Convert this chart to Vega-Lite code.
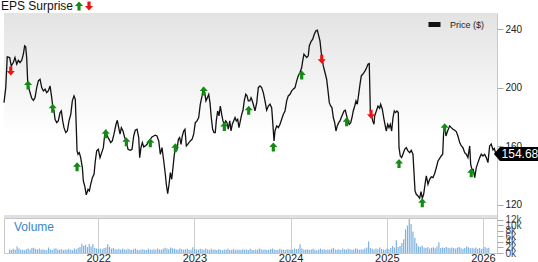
{
  "$schema": "https://vega.github.io/schema/vega-lite/v6.json",
  "padding": {"left": 0, "top": 0, "right": 0, "bottom": 0},
  "background": "white",
  "spacing": 0,
  "bounds": "flush",
  "config": {
    "font": "Liberation Sans",
    "view": {"stroke": "#c8c8c8"},
    "axis": {"gridColor": "#cdcdcd", "gridWidth": 1, "labelFont": "Liberation Sans", "labelColor": "#222222", "tickColor": "#aaaaaa", "domain": false, "title": null}
  },
  "resolve": {"scale": {"stroke": "independent", "fill": "independent", "shape": "independent"}},
  "vconcat": [
    {
      "width": 493,
      "height": 205,
      "layer": [
        {
          "data": {"values": [{}]},
          "mark": {"type": "rect", "color": {"gradient": "linear", "x1": 0, "y1": 0, "x2": 0, "y2": 1, "stops": [{"offset": 0, "color": "#e3e3e3"}, {"offset": 0.6, "color": "#ffffff"}]}},
          "encoding": {
            "x": {"datum": 2021.073, "type": "quantitative", "scale": {"domain": [2021.073, 2026.094], "nice": false, "zero": false}},
            "x2": {"datum": 2026.094},
            "y": {"datum": 251.1, "type": "quantitative", "scale": {"domain": [110.9, 251.1], "nice": false, "zero": false}},
            "y2": {"datum": 111.9}
          }
        },
        {
          "data": {"values": [{}]},
          "mark": {"type": "rule", "color": "#e0e0e0", "strokeWidth": 3},
          "encoding": {"y": {"datum": 111.9, "type": "quantitative"}}
        },
        {
          "data": {"values": [
            {"t":2021.073,"p":189.8},{"t":2021.091,"p":200.1},{"t":2021.106,"p":221.1},{"t":2021.131,"p":220.6},{"t":2021.147,"p":214.9},{"t":2021.168,"p":217.2},{"t":2021.185,"p":220.6},{"t":2021.203,"p":216.1},{"t":2021.219,"p":218.8},{"t":2021.236,"p":217.2},
            {"t":2021.254,"p":218.8},{"t":2021.270,"p":222.9},{"t":2021.283,"p":228.6},{"t":2021.294,"p":227.9},{"t":2021.304,"p":220.6},{"t":2021.314,"p":204.7},{"t":2021.321,"p":201.2},{"t":2021.338,"p":196.7},{"t":2021.355,"p":192.8},{"t":2021.372,"p":191.4},
            {"t":2021.389,"p":193.2},{"t":2021.406,"p":200.1},{"t":2021.423,"p":204.7},{"t":2021.440,"p":205.8},{"t":2021.457,"p":200.1},{"t":2021.474,"p":197.8},{"t":2021.491,"p":199.0},{"t":2021.508,"p":196.7},{"t":2021.524,"p":197.8},{"t":2021.542,"p":201.2},
            {"t":2021.559,"p":193.2},{"t":2021.569,"p":187.5},{"t":2021.582,"p":184.1},{"t":2021.593,"p":178.4},{"t":2021.610,"p":176.1},{"t":2021.626,"p":177.3},{"t":2021.644,"p":183.0},{"t":2021.657,"p":184.1},{"t":2021.671,"p":177.3},{"t":2021.684,"p":172.7},
            {"t":2021.702,"p":169.3},{"t":2021.718,"p":170.4},{"t":2021.735,"p":177.3},{"t":2021.753,"p":181.8},{"t":2021.769,"p":191.0},{"t":2021.786,"p":194.4},{"t":2021.799,"p":192.1},{"t":2021.807,"p":177.3},{"t":2021.817,"p":156.8},{"t":2021.827,"p":154.5},
            {"t":2021.840,"p":155.6},{"t":2021.854,"p":152.2},{"t":2021.871,"p":145.4},{"t":2021.881,"p":136.2},{"t":2021.895,"p":132.8},{"t":2021.911,"p":126.7},{"t":2021.929,"p":130.5},{"t":2021.942,"p":129.4},{"t":2021.956,"p":133.9},{"t":2021.973,"p":138.5},
            {"t":2021.990,"p":140.8},{"t":2022.003,"p":149.9},{"t":2022.017,"p":156.8},{"t":2022.034,"p":157.9},{"t":2022.051,"p":152.2},{"t":2022.068,"p":155.6},{"t":2022.085,"p":159.0},{"t":2022.099,"p":168.2},{"t":2022.112,"p":170.4},{"t":2022.125,"p":167.0},
            {"t":2022.143,"p":164.7},{"t":2022.160,"p":162.5},{"t":2022.176,"p":163.6},{"t":2022.193,"p":168.2},{"t":2022.214,"p":175.0},{"t":2022.227,"p":177.7},{"t":2022.241,"p":172.7},{"t":2022.255,"p":168.2},{"t":2022.268,"p":172.7},{"t":2022.285,"p":170.4},
            {"t":2022.302,"p":165.9},{"t":2022.319,"p":163.6},{"t":2022.336,"p":157.9},{"t":2022.359,"p":157.2},{"t":2022.377,"p":157.9},{"t":2022.394,"p":167.0},{"t":2022.410,"p":170.9},{"t":2022.428,"p":171.6},{"t":2022.445,"p":165.9},{"t":2022.455,"p":152.2},
            {"t":2022.468,"p":159.0},{"t":2022.482,"p":162.5},{"t":2022.496,"p":159.5},{"t":2022.512,"p":160.2},{"t":2022.530,"p":161.3},{"t":2022.547,"p":163.6},{"t":2022.563,"p":164.7},{"t":2022.580,"p":166.3},{"t":2022.598,"p":167.0},{"t":2022.614,"p":167.5},
            {"t":2022.631,"p":167.0},{"t":2022.649,"p":163.6},{"t":2022.665,"p":154.5},{"t":2022.682,"p":159.0},{"t":2022.700,"p":149.9},{"t":2022.716,"p":140.8},{"t":2022.726,"p":134.0},{"t":2022.740,"p":127.6},{"t":2022.754,"p":134.0},{"t":2022.767,"p":141.9},
            {"t":2022.781,"p":137.4},{"t":2022.794,"p":145.4},{"t":2022.808,"p":154.5},{"t":2022.822,"p":159.5},{"t":2022.835,"p":157.9},{"t":2022.849,"p":164.7},{"t":2022.862,"p":165.9},{"t":2022.876,"p":161.3},{"t":2022.889,"p":167.0},{"t":2022.903,"p":170.4},
            {"t":2022.916,"p":171.6},{"t":2022.930,"p":160.2},{"t":2022.944,"p":161.3},{"t":2022.957,"p":162.5},{"t":2022.970,"p":163.6},{"t":2022.988,"p":164.7},{"t":2023.005,"p":168.2},{"t":2023.021,"p":176.1},{"t":2023.039,"p":177.3},{"t":2023.056,"p":179.6},
            {"t":2023.072,"p":188.7},{"t":2023.090,"p":194.4},{"t":2023.103,"p":200.1},{"t":2023.117,"p":196.7},{"t":2023.130,"p":191.0},{"t":2023.144,"p":193.2},{"t":2023.158,"p":195.5},{"t":2023.171,"p":189.8},{"t":2023.184,"p":179.6},{"t":2023.198,"p":171.6},
            {"t":2023.212,"p":169.3},{"t":2023.225,"p":169.3},{"t":2023.235,"p":177.3},{"t":2023.249,"p":184.1},{"t":2023.263,"p":180.7},{"t":2023.276,"p":187.5},{"t":2023.290,"p":181.8},{"t":2023.303,"p":177.3},{"t":2023.317,"p":175.0},{"t":2023.331,"p":177.3},
            {"t":2023.344,"p":176.1},{"t":2023.357,"p":171.6},{"t":2023.372,"p":177.3},{"t":2023.385,"p":170.4},{"t":2023.398,"p":175.0},{"t":2023.412,"p":177.3},{"t":2023.426,"p":179.6},{"t":2023.439,"p":177.3},{"t":2023.453,"p":178.4},{"t":2023.466,"p":172.7},
            {"t":2023.480,"p":177.3},{"t":2023.494,"p":181.8},{"t":2023.507,"p":184.6},{"t":2023.520,"p":191.0},{"t":2023.535,"p":195.5},{"t":2023.548,"p":194.4},{"t":2023.561,"p":191.0},{"t":2023.576,"p":191.0},{"t":2023.589,"p":193.2},{"t":2023.596,"p":192.1},
            {"t":2023.612,"p":188.7},{"t":2023.629,"p":184.1},{"t":2023.647,"p":189.8},{"t":2023.663,"p":200.1},{"t":2023.680,"p":201.2},{"t":2023.697,"p":200.1},{"t":2023.714,"p":196.7},{"t":2023.731,"p":191.0},{"t":2023.748,"p":184.6},{"t":2023.765,"p":187.5},
            {"t":2023.782,"p":188.7},{"t":2023.799,"p":186.4},{"t":2023.809,"p":177.3},{"t":2023.823,"p":163.6},{"t":2023.833,"p":170.4},{"t":2023.850,"p":173.9},{"t":2023.867,"p":172.7},{"t":2023.884,"p":175.0},{"t":2023.901,"p":178.4},{"t":2023.918,"p":181.8},
            {"t":2023.935,"p":184.1},{"t":2023.952,"p":191.0},{"t":2023.968,"p":194.4},{"t":2023.986,"p":195.5},{"t":2024.003,"p":197.8},{"t":2024.019,"p":199.0},{"t":2024.037,"p":200.1},{"t":2024.054,"p":204.7},{"t":2024.070,"p":208.1},{"t":2024.088,"p":210.4},
            {"t":2024.105,"p":213.8},{"t":2024.115,"p":218.3},{"t":2024.128,"p":222.9},{"t":2024.142,"p":221.8},{"t":2024.156,"p":220.6},{"t":2024.172,"p":221.8},{"t":2024.182,"p":228.6},{"t":2024.200,"p":231.6},{"t":2024.217,"p":233.2},{"t":2024.233,"p":236.6},
            {"t":2024.250,"p":238.9},{"t":2024.264,"p":239.3},{"t":2024.274,"p":236.6},{"t":2024.291,"p":232.0},{"t":2024.304,"p":224.0},{"t":2024.315,"p":219.5},{"t":2024.325,"p":214.9},{"t":2024.342,"p":210.4},{"t":2024.359,"p":205.8},{"t":2024.373,"p":197.8},
            {"t":2024.386,"p":189.8},{"t":2024.400,"p":187.5},{"t":2024.413,"p":186.4},{"t":2024.427,"p":179.6},{"t":2024.441,"p":176.1},{"t":2024.454,"p":170.4},{"t":2024.467,"p":173.9},{"t":2024.482,"p":176.1},{"t":2024.495,"p":177.3},{"t":2024.508,"p":179.6},
            {"t":2024.522,"p":181.8},{"t":2024.536,"p":184.1},{"t":2024.549,"p":184.6},{"t":2024.563,"p":180.7},{"t":2024.576,"p":177.3},{"t":2024.590,"p":175.0},{"t":2024.604,"p":176.1},{"t":2024.617,"p":179.6},{"t":2024.630,"p":184.1},{"t":2024.645,"p":187.5},
            {"t":2024.658,"p":191.0},{"t":2024.671,"p":188.7},{"t":2024.685,"p":195.5},{"t":2024.699,"p":202.4},{"t":2024.712,"p":208.1},{"t":2024.726,"p":209.2},{"t":2024.739,"p":210.4},{"t":2024.753,"p":211.9},{"t":2024.767,"p":213.8},{"t":2024.780,"p":216.1},
            {"t":2024.793,"p":216.5},{"t":2024.804,"p":184.1},{"t":2024.814,"p":181.8},{"t":2024.828,"p":177.3},{"t":2024.841,"p":175.0},{"t":2024.848,"p":180.7},{"t":2024.865,"p":184.1},{"t":2024.882,"p":187.5},{"t":2024.899,"p":186.0},{"t":2024.909,"p":188.7},
            {"t":2024.926,"p":185.3},{"t":2024.940,"p":179.6},{"t":2024.953,"p":175.0},{"t":2024.966,"p":170.4},{"t":2024.981,"p":175.0},{"t":2024.994,"p":172.7},{"t":2025.007,"p":175.0},{"t":2025.021,"p":170.4},{"t":2025.035,"p":179.6},{"t":2025.048,"p":184.1},
            {"t":2025.062,"p":183.0},{"t":2025.075,"p":184.1},{"t":2025.089,"p":183.0},{"t":2025.096,"p":159.0},{"t":2025.109,"p":153.3},{"t":2025.123,"p":152.2},{"t":2025.136,"p":154.5},{"t":2025.154,"p":157.9},{"t":2025.170,"p":159.0},{"t":2025.187,"p":156.8},
            {"t":2025.205,"p":155.6},{"t":2025.221,"p":157.2},{"t":2025.238,"p":154.5},{"t":2025.248,"p":143.1},{"t":2025.259,"p":129.4},{"t":2025.272,"p":127.1},{"t":2025.289,"p":126.0},{"t":2025.306,"p":124.4},{"t":2025.320,"p":128.9},{"t":2025.333,"p":124.4},
            {"t":2025.347,"p":127.1},{"t":2025.361,"p":134.0},{"t":2025.374,"p":139.7},{"t":2025.391,"p":134.0},{"t":2025.408,"p":137.4},{"t":2025.425,"p":139.0},{"t":2025.442,"p":138.5},{"t":2025.459,"p":141.3},{"t":2025.476,"p":145.4},{"t":2025.493,"p":149.9},
            {"t":2025.510,"p":151.7},{"t":2025.526,"p":153.3},{"t":2025.541,"p":154.5},{"t":2025.551,"p":170.4},{"t":2025.561,"p":174.5},{"t":2025.574,"p":167.0},{"t":2025.591,"p":170.4},{"t":2025.612,"p":173.9},{"t":2025.628,"p":172.7},{"t":2025.646,"p":171.6},
            {"t":2025.663,"p":170.9},{"t":2025.679,"p":170.0},{"t":2025.696,"p":167.0},{"t":2025.714,"p":162.5},{"t":2025.731,"p":160.2},{"t":2025.747,"p":159.0},{"t":2025.765,"p":155.6},{"t":2025.781,"p":154.5},{"t":2025.798,"p":152.2},{"t":2025.816,"p":160.2},
            {"t":2025.826,"p":147.6},{"t":2025.839,"p":144.2},{"t":2025.852,"p":144.2},{"t":2025.867,"p":138.5},{"t":2025.883,"p":145.4},{"t":2025.900,"p":148.8},{"t":2025.918,"p":152.2},{"t":2025.934,"p":154.5},{"t":2025.951,"p":153.3},{"t":2025.968,"p":154.5},
            {"t":2025.985,"p":152.2},{"t":2026.002,"p":148.8},{"t":2026.019,"p":160.2},{"t":2026.035,"p":161.5},{"t":2026.053,"p":157.5},{"t":2026.066,"p":158.5},{"t":2026.083,"p":154.68}
          ]},
          "mark": {"type": "line", "strokeWidth": 1.3, "interpolate": "linear"},
          "encoding": {
            "x": {"field": "t", "type": "quantitative", "scale": {"domain": [2021.073, 2026.094], "nice": false, "zero": false}, "axis": {"orient": "top", "values": [2022, 2023, 2024, 2025, 2026], "labels": false, "ticks": false, "grid": true, "domain": false}},
            "y": {"field": "p", "type": "quantitative", "scale": {"domain": [110.9, 251.1], "nice": false, "zero": false}, "axis": {"orient": "right", "values": [120, 140, 160, 180, 200, 220, 240], "grid": true, "tickSize": 6, "labelFontSize": 10, "labelPadding": 2}},
            "stroke": {"datum": "Price ($)", "type": "nominal", "scale": {"range": ["#111111"]}, "legend": {"title": null, "orient": "none", "legendX": 422, "legendY": 3, "padding": 0, "symbolType": "stroke", "symbolStrokeWidth": 5, "symbolSize": 144, "labelFontSize": 9, "labelColor": "#222222", "labelOffset": 7}}
          }
        },
        {
          "data": {"values": [
            {"t":2021.142,"p":211.5,"r":"miss"},{"t":2021.318,"p":201.9,"r":"beat"},{"t":2021.569,"p":186.0,"r":"beat"},{"t":2021.817,"p":146.0,"r":"beat"},{"t":2022.109,"p":168.6,"r":"beat"},
            {"t":2022.319,"p":163.1,"r":"beat"},{"t":2022.563,"p":162.4,"r":"beat"},{"t":2022.818,"p":159.0,"r":"beat"},{"t":2023.107,"p":197.8,"r":"beat"},{"t":2023.317,"p":173.4,"r":"beat"},
            {"t":2023.565,"p":184.6,"r":"beat"},{"t":2023.816,"p":159.5,"r":"beat"},{"t":2024.105,"p":208.7,"r":"beat"},{"t":2024.309,"p":219.5,"r":"miss"},{"t":2024.563,"p":176.8,"r":"beat"},
            {"t":2024.811,"p":181.9,"r":"miss"},{"t":2025.096,"p":148.1,"r":"beat"},{"t":2025.333,"p":121.4,"r":"beat"},{"t":2025.561,"p":172.7,"r":"beat"},{"t":2025.832,"p":141.9,"r":"beat"}
          ]},
          "mark": {"type": "point", "filled": true, "opacity": 1, "size": 81, "strokeWidth": 0},
          "encoding": {
            "x": {"field": "t", "type": "quantitative"},
            "y": {"field": "p", "type": "quantitative"},
            "shape": {"field": "r", "type": "nominal", "scale": {"domain": ["beat", "miss"], "range": ["M0,-1L0.9,0L0.35,0L0.35,1L-0.35,1L-0.35,0L-0.9,0Z", "M0,1L0.9,0L0.35,0L0.35,-1L-0.35,-1L-0.35,0L-0.9,0Z"]}, "legend": {"title": "EPS Surprise", "titleOrient": "left", "titleFontSize": 12, "titleFontWeight": "normal", "titleFont": "Liberation Sans", "titleColor": "#111111", "titlePadding": 0, "titleBaseline": "middle", "orient": "none", "legendX": -3, "legendY": -12, "direction": "horizontal", "labelExpr": "''", "labelOffset": 0, "columnPadding": 0, "padding": 0, "symbolSize": 81, "symbolStrokeWidth": 0}},
            "fill": {"field": "r", "type": "nominal", "scale": {"domain": ["beat", "miss"], "range": ["#138a13", "#ee1111"]}, "legend": {"title": "EPS Surprise", "titleOrient": "left", "titleFontSize": 12, "titleFontWeight": "normal", "titleFont": "Liberation Sans", "titleColor": "#111111", "titlePadding": 0, "titleBaseline": "middle", "orient": "none", "legendX": -3, "legendY": -12, "direction": "horizontal", "labelExpr": "''", "labelOffset": 0, "columnPadding": 0, "padding": 0, "symbolSize": 81, "symbolStrokeWidth": 0}}
          }
        },
        {
          "data": {"values": [{"t": 2026.083, "p": 154.68, "label": "154.68"}]},
          "mark": {"type": "point", "filled": true, "opacity": 1, "color": "#000000", "size": 400, "strokeWidth": 0, "shape": "M-0.2,0L0.4,-0.7L4.6,-0.7L4.6,0.7L0.4,0.7Z"},
          "encoding": {
            "x": {"field": "t", "type": "quantitative"},
            "y": {"field": "p", "type": "quantitative"}
          }
        },
        {
          "data": {"values": [{"t": 2026.083, "p": 154.68, "label": "154.68"}]},
          "mark": {"type": "text", "color": "#ffffff", "fontSize": 12, "dx": 24, "align": "center", "baseline": "middle"},
          "encoding": {
            "x": {"field": "t", "type": "quantitative"},
            "y": {"field": "p", "type": "quantitative"},
            "text": {"field": "label"}
          }
        }
      ]
    },
    {
      "width": 493,
      "height": 35,
      "title": {"text": "Volume", "anchor": "start", "frame": "group", "fontSize": 12, "fontWeight": "normal", "font": "Liberation Sans", "color": "#3c84c8", "offset": 0, "dx": 10, "dy": 19},
      "data": {"values": [
        {"t":2021.080,"v":1300},{"t":2021.099,"v":1100},{"t":2021.118,"v":1500},{"t":2021.138,"v":1200},{"t":2021.157,"v":2400},{"t":2021.176,"v":1600},{"t":2021.195,"v":1300},{"t":2021.215,"v":1200},{"t":2021.234,"v":1000},{"t":2021.253,"v":1400},
        {"t":2021.272,"v":1600},{"t":2021.292,"v":1200},{"t":2021.311,"v":1800},{"t":2021.330,"v":1900},{"t":2021.349,"v":1500},{"t":2021.368,"v":1300},{"t":2021.388,"v":1600},{"t":2021.407,"v":1200},{"t":2021.426,"v":1400},{"t":2021.445,"v":1200},
        {"t":2021.465,"v":1000},{"t":2021.484,"v":2000},{"t":2021.503,"v":1300},{"t":2021.522,"v":1100},{"t":2021.542,"v":1500},{"t":2021.561,"v":1700},{"t":2021.580,"v":1300},{"t":2021.599,"v":1200},{"t":2021.618,"v":1400},{"t":2021.638,"v":1100},
        {"t":2021.657,"v":1300},{"t":2021.676,"v":1200},{"t":2021.695,"v":1500},{"t":2021.715,"v":1200},{"t":2021.734,"v":1000},{"t":2021.753,"v":1600},{"t":2021.772,"v":1400},{"t":2021.792,"v":1800},{"t":2021.811,"v":2200},{"t":2021.830,"v":3400},
        {"t":2021.849,"v":2600},{"t":2021.868,"v":3000},{"t":2021.888,"v":2200},{"t":2021.907,"v":3300},{"t":2021.926,"v":2400},{"t":2021.945,"v":3200},{"t":2021.965,"v":1800},{"t":2021.984,"v":1600},{"t":2022.003,"v":1400},{"t":2022.022,"v":1600},
        {"t":2022.042,"v":1400},{"t":2022.061,"v":1800},
        {"t":2022.080,"v":2000},{"t":2022.099,"v":3200},{"t":2022.118,"v":2200},{"t":2022.138,"v":1600},{"t":2022.157,"v":1800},{"t":2022.176,"v":1400},{"t":2022.195,"v":1300},{"t":2022.215,"v":1500},{"t":2022.234,"v":1200},{"t":2022.253,"v":1600},
        {"t":2022.272,"v":1400},{"t":2022.292,"v":1200},{"t":2022.311,"v":1500},{"t":2022.330,"v":1300},{"t":2022.349,"v":1100},{"t":2022.368,"v":1400},{"t":2022.388,"v":1600},{"t":2022.407,"v":1200},{"t":2022.426,"v":1000},{"t":2022.445,"v":1300},
        {"t":2022.465,"v":1400},{"t":2022.484,"v":1200},{"t":2022.503,"v":1100},{"t":2022.522,"v":1500},{"t":2022.542,"v":1300},{"t":2022.561,"v":1200},{"t":2022.580,"v":1400},{"t":2022.599,"v":1100},{"t":2022.618,"v":1600},{"t":2022.638,"v":1300},
        {"t":2022.657,"v":1200},{"t":2022.676,"v":1500},{"t":2022.695,"v":1900},{"t":2022.715,"v":1600},{"t":2022.734,"v":1400},{"t":2022.753,"v":2000},{"t":2022.772,"v":1700},{"t":2022.792,"v":1500},{"t":2022.811,"v":1300},{"t":2022.830,"v":1200},
        {"t":2022.849,"v":1600},{"t":2022.868,"v":1400},{"t":2022.888,"v":1200},{"t":2022.907,"v":1300},{"t":2022.926,"v":1500},{"t":2022.945,"v":1100},{"t":2022.965,"v":1200},{"t":2022.984,"v":2100},{"t":2023.003,"v":1400},{"t":2023.022,"v":1300},
        {"t":2023.042,"v":1200},{"t":2023.061,"v":1500},
        {"t":2023.080,"v":1400},{"t":2023.099,"v":1200},{"t":2023.118,"v":1600},{"t":2023.138,"v":1300},{"t":2023.157,"v":1100},{"t":2023.176,"v":1500},{"t":2023.195,"v":1200},{"t":2023.215,"v":1300},{"t":2023.234,"v":1100},{"t":2023.253,"v":1400},
        {"t":2023.272,"v":1200},{"t":2023.292,"v":1000},{"t":2023.311,"v":1300},{"t":2023.330,"v":1200},{"t":2023.349,"v":1500},{"t":2023.368,"v":1100},{"t":2023.388,"v":1200},{"t":2023.407,"v":1400},{"t":2023.426,"v":1000},{"t":2023.445,"v":1300},
        {"t":2023.465,"v":1200},{"t":2023.484,"v":1100},{"t":2023.503,"v":1400},{"t":2023.522,"v":1200},{"t":2023.542,"v":1300},{"t":2023.561,"v":1000},{"t":2023.580,"v":1500},{"t":2023.599,"v":1200},{"t":2023.618,"v":1100},{"t":2023.638,"v":1300},
        {"t":2023.657,"v":1200},{"t":2023.676,"v":1600},{"t":2023.695,"v":1400},{"t":2023.715,"v":1200},{"t":2023.734,"v":1300},{"t":2023.753,"v":1100},{"t":2023.772,"v":1200},{"t":2023.792,"v":1400},{"t":2023.811,"v":1600},{"t":2023.830,"v":1300},
        {"t":2023.849,"v":1100},{"t":2023.868,"v":1200},{"t":2023.888,"v":1500},{"t":2023.907,"v":1300},{"t":2023.926,"v":1200},{"t":2023.945,"v":1100},{"t":2023.965,"v":1400},{"t":2023.984,"v":1300},{"t":2024.003,"v":1200},{"t":2024.022,"v":1300},
        {"t":2024.042,"v":1600},{"t":2024.061,"v":1400},
        {"t":2024.080,"v":1500},{"t":2024.099,"v":3200},{"t":2024.118,"v":1600},{"t":2024.138,"v":1300},{"t":2024.157,"v":1200},{"t":2024.176,"v":1400},{"t":2024.195,"v":1100},{"t":2024.215,"v":1300},{"t":2024.234,"v":1500},{"t":2024.253,"v":1200},
        {"t":2024.272,"v":1000},{"t":2024.292,"v":1300},{"t":2024.311,"v":1600},{"t":2024.330,"v":1200},{"t":2024.349,"v":1400},{"t":2024.368,"v":1100},{"t":2024.388,"v":1300},{"t":2024.407,"v":1200},{"t":2024.426,"v":1500},{"t":2024.445,"v":1800},
        {"t":2024.465,"v":1300},{"t":2024.484,"v":1200},{"t":2024.503,"v":1400},{"t":2024.522,"v":1100},{"t":2024.542,"v":1600},{"t":2024.561,"v":1300},{"t":2024.580,"v":1200},{"t":2024.599,"v":1500},{"t":2024.618,"v":1400},{"t":2024.638,"v":1200},
        {"t":2024.657,"v":1300},{"t":2024.676,"v":1700},{"t":2024.695,"v":1500},{"t":2024.715,"v":1200},{"t":2024.734,"v":1400},{"t":2024.753,"v":1300},{"t":2024.772,"v":1600},{"t":2024.792,"v":2000},{"t":2024.811,"v":4200},{"t":2024.830,"v":1800},
        {"t":2024.849,"v":1500},{"t":2024.868,"v":1300},{"t":2024.888,"v":1600},{"t":2024.907,"v":1400},{"t":2024.926,"v":2000},{"t":2024.945,"v":1500},{"t":2024.965,"v":1300},{"t":2024.984,"v":1200},{"t":2025.003,"v":1600},{"t":2025.022,"v":1400},
        {"t":2025.042,"v":1800},{"t":2025.061,"v":2500},
        {"t":2025.080,"v":2000},{"t":2025.099,"v":4600},{"t":2025.118,"v":2200},{"t":2025.138,"v":2500},{"t":2025.157,"v":3600},{"t":2025.176,"v":5000},{"t":2025.195,"v":8600},{"t":2025.215,"v":10000},{"t":2025.234,"v":12400},{"t":2025.253,"v":10500},
        {"t":2025.272,"v":7800},{"t":2025.292,"v":5500},{"t":2025.311,"v":3500},{"t":2025.330,"v":2400},{"t":2025.349,"v":2200},{"t":2025.368,"v":2600},{"t":2025.388,"v":2000},{"t":2025.407,"v":1800},{"t":2025.426,"v":2200},{"t":2025.445,"v":1600},
        {"t":2025.465,"v":1900},{"t":2025.484,"v":2100},{"t":2025.503,"v":1700},{"t":2025.522,"v":2400},{"t":2025.542,"v":3900},{"t":2025.561,"v":1800},{"t":2025.580,"v":2000},{"t":2025.599,"v":1800},{"t":2025.618,"v":2200},{"t":2025.638,"v":1900},
        {"t":2025.657,"v":1700},{"t":2025.676,"v":2000},{"t":2025.695,"v":1800},{"t":2025.715,"v":1600},{"t":2025.734,"v":1900},{"t":2025.753,"v":2200},{"t":2025.772,"v":1700},{"t":2025.792,"v":1500},{"t":2025.811,"v":1800},{"t":2025.830,"v":2400},
        {"t":2025.849,"v":2100},{"t":2025.868,"v":1700},{"t":2025.888,"v":1900},{"t":2025.907,"v":1600},{"t":2025.926,"v":2000},{"t":2025.945,"v":1500},{"t":2025.965,"v":1800},{"t":2025.984,"v":1400},{"t":2026.003,"v":1600},{"t":2026.022,"v":2200},
        {"t":2026.042,"v":1700},{"t":2026.061,"v":1900}
      ]},
      "mark": {"type": "bar", "size": 1.2, "color": "#7eb2e0"},
      "encoding": {
        "x": {"field": "t", "type": "quantitative", "scale": {"domain": [2021.073, 2026.094], "nice": false, "zero": false}, "axis": {"values": [2022, 2023, 2024, 2025, 2026], "format": "d", "ticks": false, "grid": true, "domain": false, "labelFontSize": 11, "labelPadding": -1}},
        "y": {"field": "v", "type": "quantitative", "scale": {"domain": [0, 12727], "nice": false, "zero": true}, "axis": {"orient": "right", "values": [0, 2000, 4000, 6000, 8000, 10000, 12000], "format": "~s", "labelOverlap": false, "grid": false, "tickSize": 6, "labelFontSize": 10, "labelPadding": 2, "labelColor": "#444444"}}
      }
    }
  ]
}
